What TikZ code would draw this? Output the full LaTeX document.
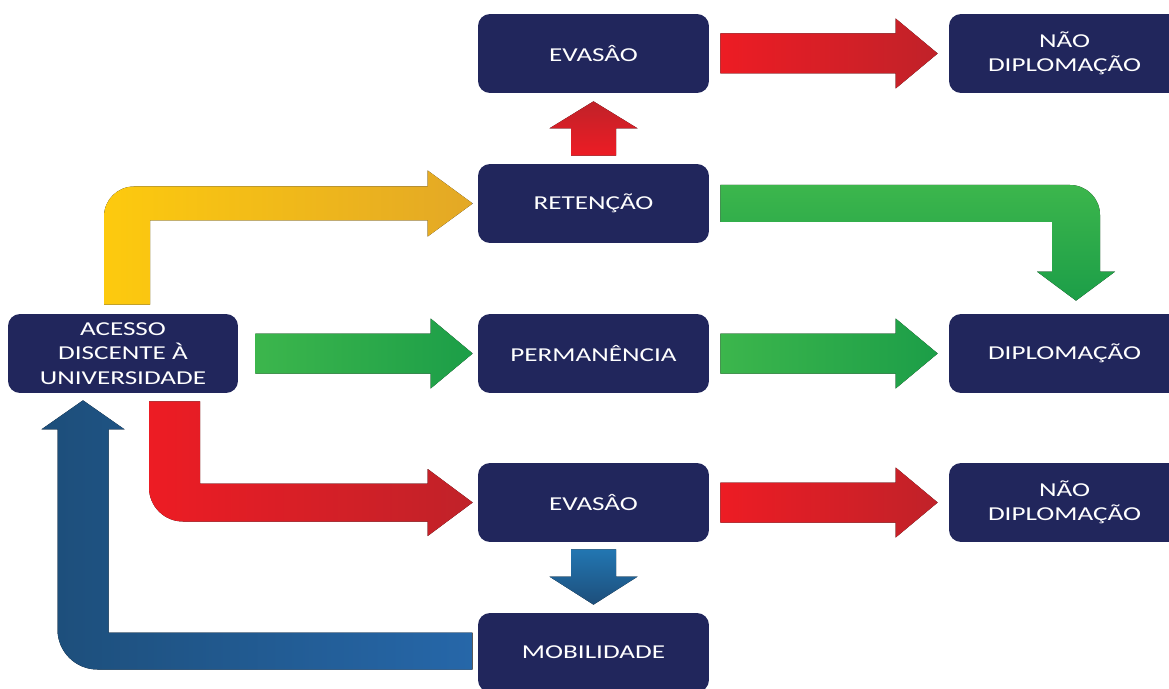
\documentclass[tikz,border=0pt]{standalone}
\usepackage{fontspec}
\setmainfont{Carlito}[FakeStretch=1.38]
\usetikzlibrary{calc}
\definecolor{boxNavy}{RGB}{33,38,92}
\definecolor{redLight}{RGB}{237,28,36}
\definecolor{redDark}{RGB}{192,34,41}
\definecolor{greenLight}{RGB}{60,182,76}
\definecolor{greenDark}{RGB}{28,158,72}
\definecolor{yellowLight}{RGB}{253,202,14}
\definecolor{yellowDark}{RGB}{227,168,38}
\definecolor{blueLight}{RGB}{38,103,169}
\definecolor{blueDark}{RGB}{29,78,122}
% straight block arrow: style, from node, to node, gap at start, gap at tip
\newcommand{\harrow}[5]{%
  \fill[#1] ($(#2.east)+(#4,-20)$) -- ($(#3.west)+(-#5-42,-20)$) -- ($(#3.west)+(-#5-42,-35)$)
    -- ($(#3.west)+(-#5,0)$) -- ($(#3.west)+(-#5-42,35)$) -- ($(#3.west)+(-#5-42,20)$)
    -- ($(#2.east)+(#4,20)$) -- cycle;}
\tikzset{
  navybox/.style={fill=boxNavy, rounded corners=0.24cm, minimum width=4.62cm, minimum height=1.58cm,
    inner sep=0pt, text=white, align=center, font=\fontsize{11.2}{14}\selectfont},
  redarrow/.style={left color=redLight, right color=redDark},
  greenarrow/.style={left color=greenLight, right color=greenDark},
}

\begin{document}
\begin{tikzpicture}[x=0.02cm, y=-0.02cm]
\useasboundingbox (0,0) rectangle (1169,689);

\node[navybox] (evasaoTop) at (593.5, 53.5) {EVASÂO};
\node[navybox] (naoTop) at (1064.5, 53.5) {NÃO\\DIPLOMAÇÃO};
\node[navybox] (retencao) at (593.5, 203.5) {RETENÇÃO};
\node[navybox, minimum width=4.6cm] (acesso) at (123, 353.5) {ACESSO\\DISCENTE À\\UNIVERSIDADE};
\node[navybox] (permanencia) at (593.5, 353.5) {PERMANÊNCIA};
\node[navybox] (diplomacao) at (1064.5, 353.5) {DIPLOMAÇÃO};
\node[navybox] (evasaoBot) at (593.5, 502.5) {EVASÂO};
\node[navybox] (naoBot) at (1064.5, 502.5) {NÃO\\DIPLOMAÇÃO};
\node[navybox] (mobilidade) at (593.5, 652.5) {MOBILIDADE};

% straight arrows
\harrow{redarrow}{evasaoTop}{naoTop}{11}{11}
\harrow{greenarrow}{acesso}{permanencia}{17}{5}
\harrow{greenarrow}{permanencia}{diplomacao}{11}{11}
\harrow{redarrow}{evasaoBot}{naoBot}{11}{11}

% small vertical arrows
\fill[bottom color=redLight, top color=redDark]
  ($(retencao.north)+(-22.5,-8)$) -- ($(evasaoTop.south)+(-22.5,35)$) -- ($(evasaoTop.south)+(-44,35)$)
  -- ($(evasaoTop.south)+(0,8)$) -- ($(evasaoTop.south)+(44,35)$) -- ($(evasaoTop.south)+(22.5,35)$)
  -- ($(retencao.north)+(22.5,-8)$) -- cycle;
\fill[top color=blueLight!90!cyan, bottom color=blueDark]
  ($(evasaoBot.south)+(-22.5,7)$) -- ($(mobilidade.north)+(-22.5,-36)$) -- ($(mobilidade.north)+(-44,-36)$)
  -- ($(mobilidade.north)+(0,-8)$) -- ($(mobilidade.north)+(44,-36)$) -- ($(mobilidade.north)+(22.5,-36)$)
  -- ($(evasaoBot.south)+(22.5,7)$) -- cycle;

% acesso to retencao
\coordinate (yb) at ($(acesso.north)+(4,-9)$);
\coordinate (yt) at ($(retencao.west)+(-5,0)$);
\coordinate (yc) at (yb |- yt);
\fill[left color=yellowLight, right color=yellowDark]
  ($(yb)+(-23,0)$) -- ($(yc)+(-23,13)$) .. controls ($(yc)+(-23,-3.6)$) and ($(yc)+(-9.6,-17)$) .. ($(yc)+(7,-17)$)
  -- ($(yt)+(-45,-17)$) -- ($(yt)+(-45,-33)$) -- (yt) -- ($(yt)+(-45,33)$) -- ($(yt)+(-45,17)$)
  -- ($(yc)+(23,17)$) -- ($(yb)+(23,0)$) -- cycle;

% retencao to diplomacao
\coordinate (gs) at ($(retencao.east)+(11,0)$);
\coordinate (gt) at ($(diplomacao.north)+(11.5,-13)$);
\coordinate (gc) at (gt |- gs);
\fill[top color=greenLight, bottom color=greenDark]
  ($(gs)+(0,-18.5)$) -- ($(gc)+(-6,-18.5)$) .. controls ($(gc)+(10.6,-18.5)$) and ($(gc)+(24,-5.1)$) .. ($(gc)+(24,11.5)$)
  -- ($(gt)+(24,-29)$) -- ($(gt)+(39,-29)$) -- (gt) -- ($(gt)+(-39,-29)$) -- ($(gt)+(-24,-29)$)
  -- ($(gc)+(-24,18.5)$) -- ($(gs)+(0,18.5)$) -- cycle;

% acesso to evasao
\coordinate (rs) at ($(acesso.south)+(51.5,8)$);
\coordinate (rt) at ($(evasaoBot.west)+(-5,0)$);
\coordinate (rc) at (rs |- rt);
\fill[left color=redLight, middle color=redLight, right color=redDark]
  ($(rs)+(-25.5,0)$) -- ($(rc)+(-25.5,-15)$) .. controls ($(rc)+(-25.5,3.8)$) and ($(rc)+(-10.3,19)$) .. ($(rc)+(8.5,19)$)
  -- ($(rt)+(-45,19)$) -- ($(rt)+(-45,33.5)$) -- (rt) -- ($(rt)+(-45,-33.5)$) -- ($(rt)+(-45,-19)$)
  -- ($(rc)+(25.5,-19)$) -- ($(rs)+(25.5,0)$) -- cycle;

% mobilidade back to acesso
\coordinate (bs) at ($(mobilidade.west)+(-5,-1.5)$);
\coordinate (bt) at ($(acesso.south)+(-40,7)$);
\coordinate (bc) at (bt |- bs);
\fill[left color=blueDark, right color=blueLight]
  ($(bs)+(0,-18.5)$) -- ($(bc)+(25.5,-18.5)$) -- ($(bt)+(25.5,29)$) -- ($(bt)+(41.5,29)$)
  -- (bt) -- ($(bt)+(-41.5,29)$) -- ($(bt)+(-25.5,29)$) -- ($(bc)+(-25.5,-21.5)$)
  .. controls ($(bc)+(-25.5,0.6)$) and ($(bc)+(-7.6,18.5)$) .. ($(bc)+(14.5,18.5)$)
  -- ($(bs)+(0,18.5)$) -- cycle;

\end{tikzpicture}
\end{document}
